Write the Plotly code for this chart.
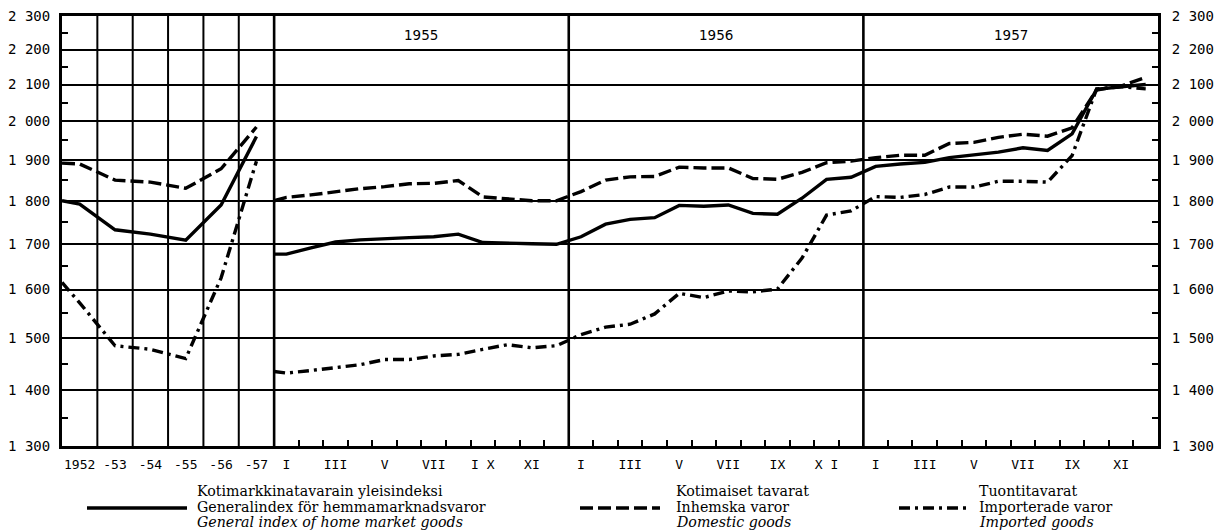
import math
import plotly.graph_objects as go

# ---------------- data ----------------
annual_labels = ["1952", "-53", "-54", "-55", "-56", "-57"]
# first value = level at which each curve enters the annual panel (left edge)
general_annual = [1800, 1792, 1732, 1722, 1708, 1790, 1960]
domestic_annual = [1892, 1890, 1850, 1845, 1830, 1878, 1985]
imported_annual = [1615, 1572, 1485, 1478, 1460, 1625, 1897]

years = ["1955", "1956", "1957"]
month_tick_labels = [
    ["I", "III", "V", "VII", "I X", "XI"],
    ["I", "III", "V", "VII", "IX", "X I"],
    ["I", "III", "V", "VII", "IX", "XI"],
]
# first value = level at the left edge of the 1955 panel
general_monthly = [1677,
                   1677, 1691, 1704, 1709, 1712, 1714, 1716, 1722, 1703, 1701, 1700, 1699,
                   1716, 1745, 1756, 1760, 1789, 1787, 1790, 1770, 1768, 1806, 1852, 1857,
                   1884, 1890, 1894, 1906, 1912, 1920, 1931, 1924, 1967, 2087, 2094, 2100]
domestic_monthly = [1800,
                    1808, 1814, 1822, 1829, 1834, 1841, 1842, 1849, 1809, 1804, 1800, 1800,
                    1822, 1850, 1858, 1859, 1882, 1880, 1880, 1854, 1852, 1869, 1893, 1897,
                    1906, 1912, 1912, 1942, 1945, 1958, 1966, 1961, 1983, 2085, 2096, 2120]
imported_monthly = [1435,
                    1432, 1437, 1443, 1448, 1458, 1458, 1465, 1468, 1478, 1487, 1481, 1485,
                    1507, 1522, 1528, 1549, 1592, 1583, 1597, 1595, 1601, 1668, 1766, 1776,
                    1810, 1808, 1815, 1833, 1833, 1847, 1847, 1845, 1911, 2088, 2094, 2088]

y_ticks = [1300, 1400, 1500, 1600, 1700, 1800, 1900, 2000, 2100, 2200, 2300]
y_tick_text = ["1 300", "1 400", "1 500", "1 600", "1 700", "1 800", "1 900",
               "2 000", "2 100", "2 200", "2 300"]
y_minor = [1350, 1450, 1550, 1650, 1750, 1850, 1950, 2050, 2150, 2250]

legend_rows = [
    ["Kotimarkkinatavarain yleisindeksi", "Generalindex för hemmamarknadsvaror",
     "General index of home market goods"],
    ["Kotimaiset tavarat", "Inhemska varor", "Domestic goods"],
    ["Tuontitavarat", "Importerade varor", "Imported goods"],
]

# ---------------- layout geometry ----------------
OFF = 8                      # default page margin around the figure
W, H = 1223 - OFF, 532 - OFF
ML, MT = 62 - OFF, 16 - OFF  # plot area: x 62..1158, y 16..446 in window pixels
MR = W - (1158 - OFF)
MB = H - (446 - OFF)
PW = W - ML - MR
PH = H - MT - MB
A = 1.44            # width of one annual column, in month units
N_ANN = len(annual_labels)
START_M = N_ANN * A
X_MAX = START_M + 12 * len(years)

annual_x = [0] + [(i + 0.5) * A for i in range(N_ANN)]
monthly_x = [START_M] + [START_M + k + 0.5 for k in range(12 * len(years))]

DASH = "13px,5px"
DASHDOT = "11px,5px,3px,5px"
LW = 3.4

fig = go.Figure()
series = [
    (general_annual, general_monthly, "solid"),
    (domestic_annual, domestic_monthly, DASH),
    (imported_annual, imported_monthly, DASHDOT),
]
for ann, mon, dash in series:
    fig.add_trace(go.Scatter(
        x=annual_x + [None] + monthly_x,
        y=ann + [None] + mon,
        mode="lines",
        line=dict(color="black", width=LW, dash=dash),
        connectgaps=False, showlegend=False, hoverinfo="skip",
    ))
# invisible trace so the right-hand axis is drawn
fig.add_trace(go.Scatter(x=[None], y=[None], yaxis="y2", showlegend=False, hoverinfo="skip"))

# x tick labels
tickvals = [(i + 0.5) * A for i in range(N_ANN)]
ticktext = list(annual_labels)
for yi, labs in enumerate(month_tick_labels):
    for j, lab in enumerate(labs):
        tickvals.append(START_M + yi * 12 + 2 * j + 0.5)
        ticktext.append(lab)
month_bounds = [START_M + k for k in range(1, 12 * len(years))]

shapes = []
# annual vertical grid lines
for i in range(1, N_ANN):
    shapes.append(dict(type="line", xref="x", yref="paper", x0=i * A, x1=i * A, y0=0, y1=1,
                       line=dict(color="black", width=2)))
# heavy panel / year boundaries
for yi in range(len(years)):
    xb = START_M + 12 * yi
    shapes.append(dict(type="line", xref="x", yref="paper", x0=xb, x1=xb, y0=0, y1=1,
                       line=dict(color="black", width=2.6)))


# window-pixel helpers for annotations below/above the plot
def px_x(x):
    return (x - OFF - ML) / PW


def px_y(y):
    return (MT + PH - (y - OFF)) / PH


annotations = []
for yi, yr in enumerate(years):
    annotations.append(dict(x=START_M + 12 * yi + 6, y=px_y(35), xref="x", yref="paper",
                            yanchor="middle", text=yr, showarrow=False,
                            font=dict(family="DejaVu Sans", size=13.5, color="black")))

leg_samples = [(87, 187, "solid"), (580, 660, DASH), (899, 971, DASHDOT)]
leg_text_x = [195, 674, 977]
row_y = [491, 507, 522]
for (x0, x1, dash), tx, rows in zip(leg_samples, leg_text_x, legend_rows):
    shapes.append(dict(type="line", xref="paper", yref="paper",
                       x0=px_x(x0), x1=px_x(x1), y0=px_y(508), y1=px_y(508),
                       line=dict(color="black", width=LW, dash=dash)))
    for r, (txt, ry) in enumerate(zip(rows, row_y)):
        t = f"<i>{txt}</i>" if r == 2 else txt
        annotations.append(dict(x=px_x(tx), y=px_y(ry), xref="paper", yref="paper",
                                xanchor="left", yanchor="middle", text=t, showarrow=False,
                                font=dict(family="DejaVu Serif", size=14.2, color="black")))

yrange = [math.log10(1300), math.log10(2300)]
yaxis_common = dict(
    type="log", range=yrange, tickmode="array", tickvals=y_ticks, ticktext=y_tick_text,
    showgrid=True, gridcolor="black", gridwidth=2,
    ticks="", showline=True, linecolor="black", linewidth=3,
    tickfont=dict(family="DejaVu Sans Mono", size=14, color="black"),
    ticklabeloverflow="allow",
    minor=dict(tickmode="array", tickvals=y_minor, ticks="inside", ticklen=6,
               tickwidth=2, tickcolor="black", showgrid=False),
    zeroline=False, fixedrange=True, automargin=False,
)

fig.update_layout(
    width=W, height=H, autosize=False,
    margin=dict(l=ML, r=MR, t=MT, b=MB, pad=0),
    paper_bgcolor="white", plot_bgcolor="white",
    xaxis=dict(range=[0, X_MAX], tickmode="array", tickvals=tickvals, ticktext=ticktext,
               ticks="", showgrid=False, zeroline=False, showline=True, linecolor="black",
               linewidth=3, mirror=True, automargin=False,
               tickfont=dict(family="DejaVu Sans Mono", size=13, color="black"),
               ticklabelstandoff=4, ticklabeloverflow="allow",
               minor=dict(tickmode="array", tickvals=month_bounds, ticks="inside",
                          ticklen=6, tickwidth=2, tickcolor="black", showgrid=False)),
    yaxis=dict(**yaxis_common, side="left", ticklabelstandoff=6),
    yaxis2=dict(**yaxis_common, side="right", overlaying="y", ticklabelstandoff=8),
    shapes=shapes, annotations=annotations, showlegend=False,
)

fig.write_html("out.html")
